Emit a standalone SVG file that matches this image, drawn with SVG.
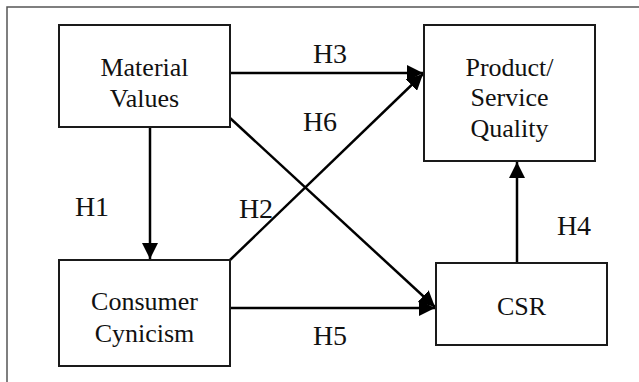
<svg xmlns="http://www.w3.org/2000/svg" width="639" height="382" viewBox="0 0 639 382" font-family="Liberation Serif, Times New Roman, serif">
<defs>
<style>
.box{fill:#fff;stroke:#1a1a1a;stroke-width:2}
.node-text{font-size:26px;fill:#111;text-anchor:middle}
.lbl{font-size:28px;fill:#111;text-anchor:middle}
.edge{stroke:#000;stroke-width:2.5;fill:none;marker-end:url(#arr)}
</style>
<marker id="arr" markerUnits="userSpaceOnUse" markerWidth="18" markerHeight="16" refX="16" refY="8" orient="auto">
<path d="M0,0 L16,8 L0,16 Z" fill="#000"/>
</marker>
</defs>
<rect width="639" height="382" fill="#fff"/>
<path d="M7,390 L7,7 L650,7" fill="none" stroke="#555" stroke-width="1.5"/>
<g id="connectors">
<line class="edge" x1="150" y1="127" x2="150" y2="259"/>
<line class="edge" x1="230" y1="73" x2="423" y2="73"/>
<line class="edge" x1="230" y1="260" x2="423" y2="74"/>
<line class="edge" x1="230" y1="118" x2="435" y2="307"/>
<line class="edge" x1="230" y1="308" x2="435" y2="308"/>
<line class="edge" x1="517" y1="263" x2="517" y2="162"/>
</g>
<g id="labels" font-family="Liberation Serif, serif">
<text class="lbl" x="330" y="63">H3</text>
<text class="lbl" x="320" y="131">H6</text>
<text class="lbl" x="92" y="216">H1</text>
<text class="lbl" x="256" y="218">H2</text>
<text class="lbl" x="574" y="235">H4</text>
<text class="lbl" x="330" y="345">H5</text>
</g>
<g id="material-values" font-family="Liberation Serif, serif">
<rect class="box" x="59" y="25" width="171" height="102"/>
<text class="node-text" x="144.5" y="76">Material</text>
<text class="node-text" x="144.5" y="107">Values</text>
</g>
<g id="consumer-cynicism" font-family="Liberation Serif, serif">
<rect class="box" x="59" y="260" width="171" height="106"/>
<text class="node-text" x="144.5" y="310">Consumer</text>
<text class="node-text" x="144.5" y="342">Cynicism</text>
</g>
<g id="product-service-quality" font-family="Liberation Serif, serif">
<rect class="box" x="424" y="25" width="171" height="136"/>
<text class="node-text" x="509.5" y="76">Product/</text>
<text class="node-text" x="509.5" y="106">Service</text>
<text class="node-text" x="509.5" y="137">Quality</text>
</g>
<g id="csr" font-family="Liberation Serif, serif">
<rect class="box" x="436" y="263" width="171" height="82"/>
<text class="node-text" x="521.5" y="315">CSR</text>
</g>
</svg>
